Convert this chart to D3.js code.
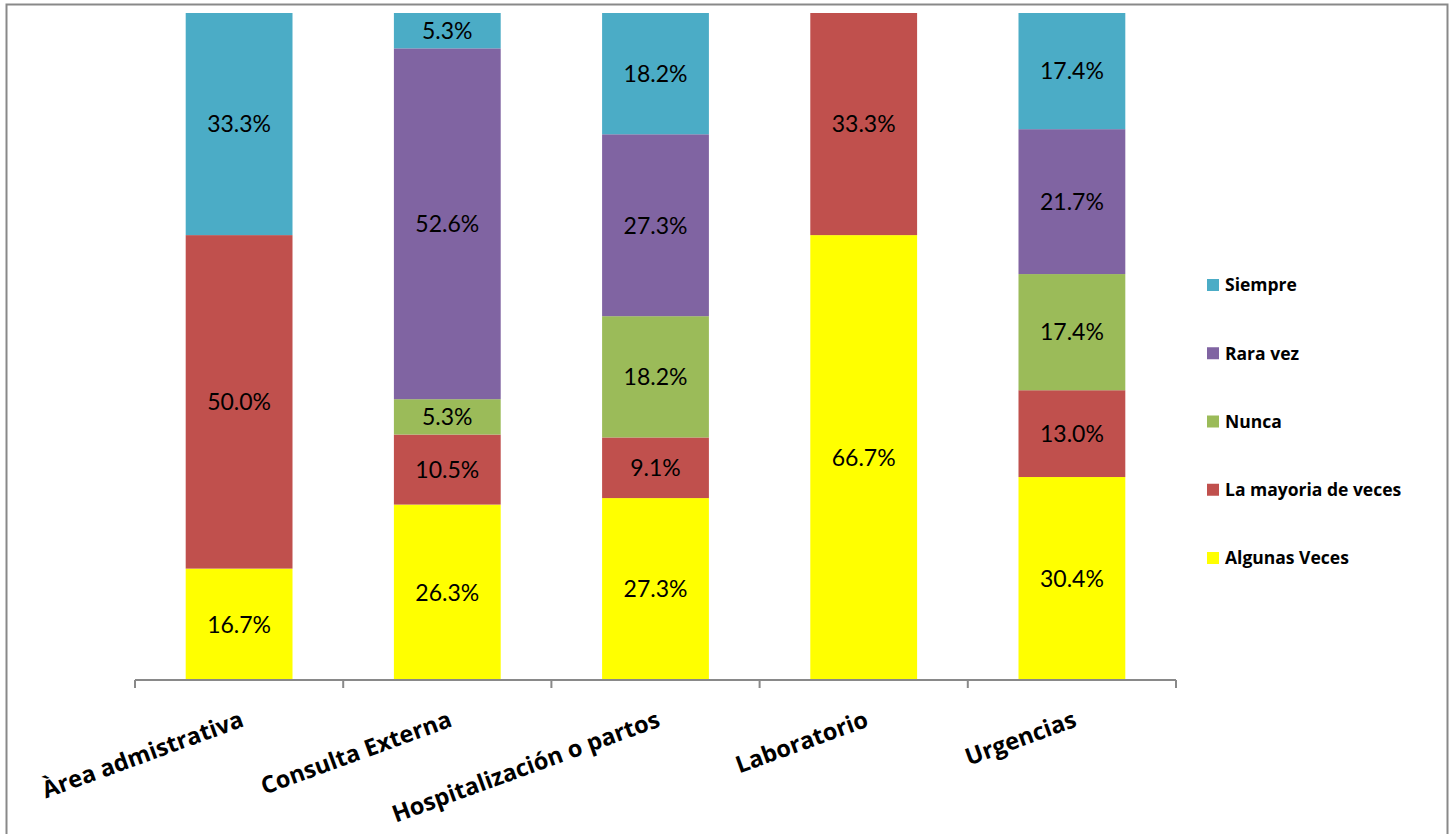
<!DOCTYPE html>
<html>
<head>
<meta charset="utf-8">
<script src="https://cdn.jsdelivr.net/npm/d3@7"></script>
<style>
  html, body { margin: 0; padding: 0; background: #fff; }
  svg { display: block; }
</style>
</head>
<body>
<svg id="chart" width="1452" height="834"></svg>
<script>
// Areas of the hospital (x axis)
const categories = ["Àrea admistrativa", "Consulta Externa", "Hospitalización o partos", "Laboratorio", "Urgencias"];

// Answer frequencies (percent), stacked bottom to top
const seriesNames = ["Algunas Veces", "La mayoria de veces", "Nunca", "Rara vez", "Siempre"];
const algunasVeces   = [16.7, 26.3, 27.3, 66.7, 30.4];
const mayoriaDeVeces = [50.0, 10.5, 9.1, 33.3, 13.0];
const nunca          = [0, 5.3, 18.2, 0, 17.4];
const raraVez        = [0, 52.6, 27.3, 0, 21.7];
const siempre        = [33.3, 5.3, 18.2, 0, 17.4];

const seriesColors = ["#FFFF00", "#C0504D", "#9BBB59", "#8064A2", "#4BACC6"];
const legendOrder = ["Siempre", "Rara vez", "Nunca", "La mayoria de veces", "Algunas Veces"];

const allSeries = [algunasVeces, mayoriaDeVeces, nunca, raraVez, siempre];
const rows = categories.map((c, i) => {
  const r = { category: c };
  seriesNames.forEach((s, k) => { r[s] = allSeries[k][i]; });
  return r;
});

const svg = d3.select("#chart");

// Outer frame
svg.append("rect")
  .attr("x", 6.5).attr("y", 4.5)
  .attr("width", 1441).attr("height", 840)
  .attr("fill", "none").attr("stroke", "#898989").attr("stroke-width", 2);

const plot = { left: 135, right: 1176, top: 13, bottom: 680 };

const x = d3.scaleBand().domain(categories).range([plot.left, plot.right]).padding(0);
const y = d3.scaleLinear().domain([0, 1]).range([plot.bottom, plot.top]);
const color = d3.scaleOrdinal().domain(seriesNames).range(seriesColors);

const stack = d3.stack().keys(seriesNames).offset(d3.stackOffsetExpand);
const layers = stack(rows);

const barW = x.bandwidth() * 0.513;

const g = svg.append("g");
const layerG = g.selectAll("g.layer").data(layers).join("g")
  .attr("class", "layer")
  .attr("fill", d => color(d.key));

layerG.selectAll("rect").data(d => d.filter(p => p[1] - p[0] > 0)).join("rect")
  .attr("x", d => x(d.data.category) + (x.bandwidth() - barW) / 2)
  .attr("width", barW)
  .attr("y", d => y(d[1]))
  .attr("height", d => y(d[0]) - y(d[1]));

// Value labels
layers.forEach(layer => {
  layer.forEach(p => {
    const v = p.data[layer.key];
    if (v <= 0) return;
    g.append("text")
      .attr("x", x(p.data.category) + x.bandwidth() / 2)
      .attr("y", (y(p[0]) + y(p[1])) / 2)
      .attr("dy", "0.36em")
      .attr("text-anchor", "middle")
      .attr("font-family", "Lato, 'Open Sans', sans-serif")
      .attr("font-size", 23)
      .attr("fill", "#000")
      .text(v.toFixed(1) + "%");
  });
});

// Category axis
const axis = d3.axisBottom(x).tickSize(0).tickFormat("");
const axisG = svg.append("g").attr("transform", `translate(0,${plot.bottom})`).call(axis);
axisG.select(".domain").attr("stroke", "#898989").attr("stroke-width", 2).attr("d", `M${plot.left},0H${plot.right}`);

const boundaries = categories.map(c => x(c)).concat([plot.right]);
axisG.selectAll("line.tick-mark").data(boundaries).join("line")
  .attr("class", "tick-mark")
  .attr("x1", d => d).attr("x2", d => d)
  .attr("y1", 0).attr("y2", 8)
  .attr("stroke", "#898989").attr("stroke-width", 2);

svg.append("g").selectAll("text").data(categories).join("text")
  .attr("transform", d => `translate(${x(d) + x.bandwidth() / 2 + 6},${plot.bottom + 46}) rotate(-20)`)
  .attr("text-anchor", "end")
  .attr("font-family", "'Open Sans', Lato, sans-serif")
  .attr("font-weight", "bold")
  .attr("font-size", 23.5)
  .attr("fill", "#000")
  .text(d => d);

// Legend
const legend = svg.append("g");
const legendY = d3.scalePoint().domain(legendOrder).range([285, 558]);
const items = legend.selectAll("g").data(legendOrder).join("g")
  .attr("transform", d => `translate(1207,${legendY(d)})`);
items.append("rect")
  .attr("x", 0).attr("y", -6).attr("width", 12).attr("height", 12)
  .attr("fill", d => color(d));
items.append("text")
  .attr("x", 18).attr("y", 0).attr("dy", "0.36em")
  .attr("font-family", "'Open Sans', Lato, sans-serif")
  .attr("font-weight", "bold")
  .attr("font-size", 17.5)
  .attr("fill", "#000")
  .text(d => d);
</script>
</body>
</html>
